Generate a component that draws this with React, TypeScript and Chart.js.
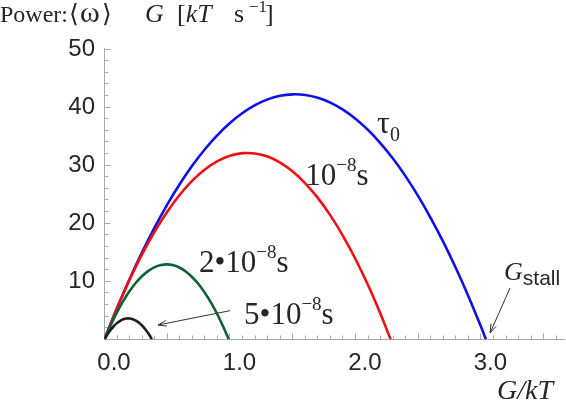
import React, { useEffect, useRef } from "react";
import { Chart, registerables } from "chart.js";

Chart.register(...registerables);

// ---- data ----
const TAU0_G = [0, 0.1, 0.2, 0.3, 0.4, 0.5, 0.6, 0.7, 0.8, 0.9, 1.0, 1.1, 1.2, 1.3, 1.4, 1.5, 1.6, 1.7, 1.8, 1.9, 2.0, 2.1, 2.2, 2.3, 2.4, 2.5, 2.6, 2.7, 2.8, 2.9, 3.0, 3.04];
const TAU0_P = [0, 5.37, 10.37, 15.01, 19.29, 23.2, 26.74, 29.92, 32.73, 35.18, 37.26, 38.98, 40.33, 41.32, 41.94, 42.19, 42.08, 41.61, 40.77, 39.56, 37.99, 36.06, 33.75, 31.09, 28.06, 24.66, 20.89, 16.77, 12.27, 7.42, 2.19, 0];

const T1_G = [0, 0.1, 0.2, 0.3, 0.4, 0.5, 0.6, 0.7, 0.8, 0.9, 1.0, 1.1, 1.2, 1.3, 1.4, 1.5, 1.6, 1.7, 1.8, 1.9, 2.0, 2.1, 2.2, 2.28];
const T1_P = [0, 5.38, 10.28, 14.67, 18.57, 21.98, 24.9, 27.32, 29.24, 30.68, 31.62, 32.06, 32.01, 31.47, 30.43, 28.9, 26.87, 24.35, 21.34, 17.83, 13.83, 9.34, 4.35, 0];

const T2_G = [0, 0.05, 0.1, 0.15, 0.2, 0.25, 0.3, 0.35, 0.4, 0.45, 0.5, 0.55, 0.6, 0.65, 0.7, 0.75, 0.8, 0.85, 0.9, 0.95, 0.99];
const T2_P = [0, 2.47, 4.69, 6.63, 8.32, 9.74, 10.9, 11.79, 12.43, 12.79, 12.9, 12.74, 12.32, 11.64, 10.69, 9.48, 8.0, 6.27, 4.27, 2.0, 0];

const T5_G = [0, 0.025, 0.05, 0.075, 0.1, 0.125, 0.15, 0.175, 0.2, 0.225, 0.25, 0.275, 0.3, 0.325, 0.35, 0.378];
const T5_P = [0, 0.89, 1.65, 2.29, 2.8, 3.19, 3.45, 3.58, 3.59, 3.47, 3.23, 2.86, 2.36, 1.74, 0.99, 0];

const X_LABEL_TICKS = [0, 1, 2, 3];
const Y_LABEL_TICKS = [10, 20, 30, 40, 50];

// ---- styles ----
const SERIF = '"Liberation Serif", "Times New Roman", serif';
const SANS = '"Liberation Sans", Arial, sans-serif';
const AXIS_COLOR = "#a8a8a8";
const TEXT_COLOR = "#262626";

type Part = { t: string; font: string; dy?: number; gap?: number };

function drawRun(ctx: CanvasRenderingContext2D, x: number, y: number, parts: Part[]) {
  let cx = x;
  for (const p of parts) {
    ctx.font = p.font;
    cx += p.gap || 0;
    ctx.fillText(p.t, cx, y + (p.dy || 0));
    cx += ctx.measureText(p.t).width;
  }
}

function arrow(ctx: CanvasRenderingContext2D, x1: number, y1: number, x2: number, y2: number) {
  const a = Math.atan2(y2 - y1, x2 - x1);
  const L = 9;
  const s = 0.32;
  ctx.beginPath();
  ctx.moveTo(x1, y1);
  ctx.lineTo(x2, y2);
  ctx.moveTo(x2 - L * Math.cos(a - s), y2 - L * Math.sin(a - s));
  ctx.lineTo(x2, y2);
  ctx.lineTo(x2 - L * Math.cos(a + s), y2 - L * Math.sin(a + s));
  ctx.stroke();
}

const axesPlugin = {
  id: "mmaAxes",
  beforeDatasetsDraw(chart: any) {
    const { ctx, scales } = chart;
    const x = scales.x;
    const y = scales.y;
    const px0 = Math.round(x.getPixelForValue(0) - 0.5) + 0.5;
    const py0 = Math.round(y.getPixelForValue(0) - 0.5) + 0.5;
    ctx.save();
    ctx.strokeStyle = AXIS_COLOR;
    ctx.lineWidth = 1;
    ctx.beginPath();
    ctx.moveTo(px0, py0);
    ctx.lineTo(x.right, py0);
    ctx.moveTo(px0, py0);
    ctx.lineTo(px0, y.getPixelForValue(y.max) - 1);
    for (let k = 1; k / 10 <= x.max + 1e-9; k++) {
      const p = Math.round(x.getPixelForValue(k / 10) - 0.5) + 0.5;
      const len = k % 5 === 0 ? 6 : 4;
      ctx.moveTo(p, py0);
      ctx.lineTo(p, py0 - len);
    }
    for (let v = 2; v <= y.max + 1e-9; v += 2) {
      const p = Math.round(y.getPixelForValue(v) - 0.5) + 0.5;
      const len = v % 10 === 0 ? 6 : 4;
      ctx.moveTo(px0, p);
      ctx.lineTo(px0 + len, p);
    }
    ctx.stroke();
    ctx.restore();
  },
  afterDraw(chart: any) {
    const { ctx, scales } = chart;
    const x = scales.x;
    const y = scales.y;
    const X = (v: number) => x.getPixelForValue(v);
    const Y = (v: number) => y.getPixelForValue(v);
    ctx.save();
    ctx.fillStyle = TEXT_COLOR;
    ctx.textBaseline = "alphabetic";
    ctx.textAlign = "left";

    // title
    const T = `24px ${SERIF}`;
    const TI = `italic 26px ${SERIF}`;
    drawRun(ctx, 0, 22, [
      { t: "Power:", font: T },
      { t: "\u27E8", font: `25px ${SERIF}`, gap: 1 },
      { t: "\u03C9", font: `30px ${SERIF}`, gap: 1 },
      { t: "\u27E9", font: `25px ${SERIF}`, gap: 2 },
    ]);
    drawRun(ctx, 145, 22, [{ t: "G", font: TI }]);
    drawRun(ctx, 177, 22, [{ t: "[", font: `26px ${SERIF}` }, { t: "kT", font: TI }]);
    drawRun(ctx, 234, 22, [{ t: "s", font: `26px ${SERIF}` }]);
    drawRun(ctx, 249, 22, [{ t: "\u22121", font: `17px ${SERIF}`, dy: -10 }]);
    drawRun(ctx, 265, 22, [{ t: "]", font: `26px ${SERIF}` }]);

    // axis label
    drawRun(ctx, 497, 399, [{ t: "G/kT", font: `italic 28px ${SERIF}` }]);

    const A = `31px ${SERIF}`;
    const S = `19px ${SERIF}`;
    drawRun(ctx, X(2.172), Y(35.53), [{ t: "\u03C4", font: `32px ${SERIF}` }, { t: "0", font: `20px ${SERIF}`, dy: 8 }]);
    drawRun(ctx, X(1.6), Y(26.58), [{ t: "10", font: A }, { t: "\u22128", font: S, dy: -14 }, { t: "s", font: A }]);
    drawRun(ctx, X(0.753), Y(11.59), [{ t: "2\u202210", font: A }, { t: "\u22128", font: S, dy: -14 }, { t: "s", font: A }]);
    drawRun(ctx, X(1.112), Y(2.72), [{ t: "5\u202210", font: A }, { t: "\u22128", font: S, dy: -14 }, { t: "s", font: A }]);
    drawRun(ctx, X(3.184), Y(10.21), [{ t: "G", font: `italic 26px ${SERIF}` }, { t: "stall", font: `21px ${SANS}`, dy: 5 }]);

    ctx.strokeStyle = "#333";
    ctx.lineWidth = 1;
    arrow(ctx, X(1.0), Y(4.93), X(0.426), Y(2.46));
    arrow(ctx, X(3.232), Y(8.84), X(3.073), Y(1.09));
    ctx.restore();
  },
};

function pts(xs: number[], ys: number[]) {
  return xs.map((g, i) => ({ x: g, y: ys[i] }));
}

export default function App() {
  const ref = useRef<HTMLCanvasElement | null>(null);
  useEffect(() => {
    if (!ref.current) return;
    const line = (data: any, color: string) => ({
      data,
      borderColor: color,
      backgroundColor: color,
      borderWidth: 2.6,
      pointRadius: 0,
      showLine: true,
      tension: 0.35,
      fill: false,
    });
    const chart = new Chart(ref.current, {
      type: "scatter",
      data: {
        datasets: [
          line(pts(T5_G, T5_P), "#1c1c1c"),
          line(pts(T2_G, T2_P), "#0b6331"),
          line(pts(T1_G, T1_P), "#ee1111"),
          line(pts(TAU0_G, TAU0_P), "#1010e6"),
        ],
      },
      options: {
        animation: false,
        responsive: false,
        devicePixelRatio: 1,
        layout: { padding: { top: 49, right: 1, left: 0, bottom: 0 } },
        plugins: { legend: { display: false }, tooltip: { enabled: false }, title: { display: false } },
        scales: {
          x: {
            type: "linear",
            min: 0,
            max: 3.67,
            grid: { display: false, drawTicks: false },
            border: { display: false },
            afterBuildTicks: (s: any) => {
              s.ticks = X_LABEL_TICKS.map((v) => ({ value: v }));
            },
            afterFit: (s: any) => {
              s.height = 62.7;
            },
            ticks: {
              autoSkip: false,
              maxRotation: 0,
              padding: 10,
              labelOffset: 9.5,
              color: TEXT_COLOR,
              font: { family: SANS, size: 24 },
              callback: (v: any) => Number(v).toFixed(1),
            },
          },
          y: {
            type: "linear",
            min: 0,
            max: 50,
            grid: { display: false, drawTicks: false },
            border: { display: false },
            afterBuildTicks: (s: any) => {
              s.ticks = Y_LABEL_TICKS.map((v) => ({ value: v }));
            },
            afterFit: (s: any) => {
              s.width = 104.5;
            },
            ticks: {
              autoSkip: false,
              padding: 9.5,
              color: TEXT_COLOR,
              font: { family: SANS, size: 24 },
              callback: (v: any) => String(v),
            },
          },
        },
      },
      plugins: [axesPlugin],
    } as any);
    return () => chart.destroy();
  }, []);
  return (
    <div style={{ position: "absolute", left: 0, top: 0, width: 566, height: 402, background: "#fff" }}>
      <canvas ref={ref} width={566} height={402} style={{ display: "block" }} />
    </div>
  );
}
